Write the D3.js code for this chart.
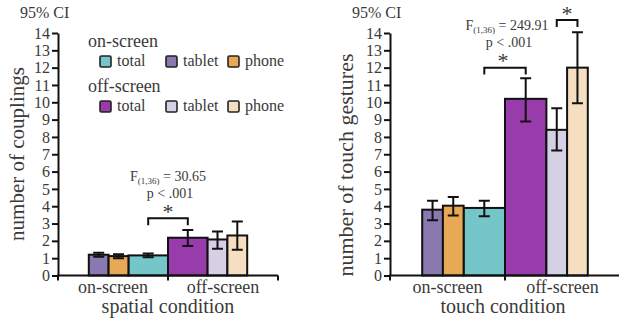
<!DOCTYPE html>
<html>
<head>
<meta charset="utf-8">
<script src="https://cdn.jsdelivr.net/npm/d3@7"></script>
<style>
  body { margin: 0; background: #fff; }
</style>
</head>
<body>
<svg id="chart" width="619" height="322" font-family="serif" fill="#3a3a3a"></svg>
<script>
//====
// data
//====
var conditions = ["on-screen", "off-screen"];
var devices = ["total", "tablet", "phone"];
var yTicks = d3.range(0, 15);

// number of couplings (order: total, tablet, phone)
var couplingsOnMean = [1.16, 1.20, 1.12];
var couplingsOnLo = [1.05, 1.08, 1.00];
var couplingsOnHi = [1.27, 1.32, 1.22];
var couplingsOffMean = [2.18, 2.08, 2.31];
var couplingsOffLo = [1.70, 1.54, 1.49];
var couplingsOffHi = [2.62, 2.54, 3.12];

// number of touch gestures
var gesturesOnMean = [3.90, 3.80, 4.03];
var gesturesOnLo = [3.42, 3.19, 3.47];
var gesturesOnHi = [4.32, 4.32, 4.53];
var gesturesOffMean = [10.20, 8.41, 12.00];
var gesturesOffLo = [8.89, 7.22, 9.95];
var gesturesOffHi = [11.39, 9.66, 14.04];

var colors = {
  "on-screen": {total: "#75c6c8", tablet: "#8a79b0", phone: "#e7a955"},
  "off-screen": {total: "#983cab", tablet: "#d6d0e4", phone: "#f6dfc1"}
};

// slot layout of the bars inside each condition band
var slots = {
  "on-screen": {tablet: [0, 1], phone: [1, 2], total: [2, 4]},
  "off-screen": {total: [0, 2], tablet: [2, 3], phone: [3, 4]}
};

function rows(onMean, onLo, onHi, offMean, offLo, offHi) {
  var out = [];
  devices.forEach(function (d, i) {
    out.push({cond: "on-screen", dev: d, v: onMean[i], lo: onLo[i], hi: onHi[i]});
    out.push({cond: "off-screen", dev: d, v: offMean[i], lo: offLo[i], hi: offHi[i]});
  });
  return out;
}

var svg = d3.select("#chart");

function drawPanel(opt) {
  var g = svg.append("g");
  var x = d3.scaleBand().domain(conditions).range([opt.x0, opt.x1]).padding(0);
  var y = d3.scaleLinear().domain([0, 14]).range([275.5, 33]);
  var unit = x.bandwidth() * 0.18;

  function slotScale(cond) {
    var s = x(cond), e = s + x.bandwidth();
    return cond === "on-screen"
      ? d3.scaleLinear().domain([0, 4]).range([e - 4 * unit, e])
      : d3.scaleLinear().domain([0, 4]).range([s, s + 4 * unit]);
  }
  function barX(d) { return slotScale(d.cond)(slots[d.cond][d.dev][0]); }
  function barW(d) { return slotScale(d.cond)(slots[d.cond][d.dev][1]) - barX(d); }
  function barC(cond, dev) {
    var sc = slotScale(cond), sl = slots[cond][dev];
    return (sc(sl[0]) + sc(sl[1])) / 2;
  }

  // bars
  g.append("g").selectAll("rect")
    .data(opt.data)
    .enter().append("rect")
    .attr("x", barX)
    .attr("width", barW)
    .attr("y", function (d) { return y(d.v); })
    .attr("height", function (d) { return y(0) - y(d.v); })
    .attr("fill", function (d) { return colors[d.cond][d.dev]; })
    .attr("stroke", "#111")
    .attr("stroke-width", 2);

  // error bars
  var eb = g.append("g").attr("stroke", "#111").attr("stroke-width", 2).attr("fill", "none");
  eb.selectAll("path")
    .data(opt.data)
    .enter().append("path")
    .attr("d", function (d) {
      var cx = barC(d.cond, d.dev), c = 5.5;
      return "M" + (cx - c) + "," + y(d.hi) + "H" + (cx + c) +
        "M" + cx + "," + y(d.hi) + "V" + y(d.lo) +
        "M" + (cx - c) + "," + y(d.lo) + "H" + (cx + c);
    });

  // y axis
  var yAxis = g.append("g")
    .attr("transform", "translate(" + opt.x0 + ",0)")
    .call(d3.axisLeft(y).tickValues(yTicks).tickSize(6).tickSizeOuter(0).tickPadding(2));
  yAxis.attr("font-family", "serif").attr("font-size", 16);
  yAxis.selectAll("path, line").attr("stroke", "#111").attr("stroke-width", 2);
  yAxis.selectAll("text").attr("fill", "#3a3a3a");

  // x axis
  var xa = g.append("g").attr("stroke", "#111").attr("stroke-width", 2);
  xa.append("line").attr("x1", opt.x0 - 1).attr("x2", opt.x1).attr("y1", y(0)).attr("y2", y(0));
  var edges = [opt.x0, x("off-screen")].concat(opt.endTick ? [opt.x1] : []);
  xa.selectAll(".tk").data(edges).enter().append("line")
    .attr("x1", function (d) { return d; }).attr("x2", function (d) { return d; })
    .attr("y1", y(0)).attr("y2", y(0) + 5);

  g.selectAll(".cat").data(conditions).enter().append("text")
    .attr("x", function (d) { return x(d) + x.bandwidth() / 2; })
    .attr("y", 293)
    .attr("text-anchor", "middle")
    .attr("font-size", 18)
    .text(function (d) { return d; });

  g.append("text")
    .attr("x", opt.x0 + (opt.x1 - opt.x0) / 2 + opt.titleShift)
    .attr("y", 313)
    .attr("text-anchor", "middle")
    .attr("font-size", 20)
    .text(opt.xTitle);

  g.append("text")
    .attr("transform", "translate(" + opt.yTitleX + "," + opt.yTitleY + ") rotate(-90)")
    .attr("text-anchor", "middle")
    .attr("font-size", opt.yTitleSize)
    .text(opt.yTitle);

  g.append("text")
    .attr("x", opt.ciX).attr("y", 18)
    .attr("font-size", 16)
    .text("95% CI");

  return {g: g, x: x, y: y, barC: barC};
}

function bracket(p, x1, x2, top, legs) {
  p.g.append("path")
    .attr("d", "M" + x1 + "," + p.y(legs) + "V" + p.y(top) + "H" + x2 + "V" + p.y(legs))
    .attr("fill", "none").attr("stroke", "#111").attr("stroke-width", 2);
}
// asterisk centred at (cx, cy)
function star(p, cx, cy) {
  p.g.append("text")
    .attr("x", cx).attr("y", cy + 11)
    .attr("text-anchor", "middle").attr("font-size", 22)
    .text("*");
}
function stat(p, cx, yF, fval) {
  var t = p.g.append("text")
    .attr("x", cx).attr("y", yF).attr("text-anchor", "middle").attr("font-size", 14);
  t.append("tspan").text("F");
  t.append("tspan").attr("font-size", 9).attr("dy", 3).text("(1,36)");
  t.append("tspan").attr("dy", -3).text(" = " + fval);
  p.g.append("text")
    .attr("x", cx + 2).attr("y", yF + 17).attr("text-anchor", "middle").attr("font-size", 14)
    .text("p < .001");
}

// left panel: couplings
var left = drawPanel({
  data: rows(couplingsOnMean, couplingsOnLo, couplingsOnHi, couplingsOffMean, couplingsOffLo, couplingsOffHi),
  x0: 58, x1: 278, endTick: true,
  xTitle: "spatial condition", titleShift: 0,
  yTitle: "number of couplings", yTitleX: 24, yTitleY: 154, yTitleSize: 21,
  ciX: 20
});
bracket(left, left.barC("on-screen", "total"), left.barC("off-screen", "total"), 3.3, 2.9);
star(left, 168, 208);
stat(left, 168, 181, "30.65");

// legend
var legendRows = [
  {cond: "on-screen", y: 47},
  {cond: "off-screen", y: 92}
];
var itemX = [100, 166, 228];
var lg = svg.append("g");
legendRows.forEach(function (r) {
  lg.append("text").attr("x", 88).attr("y", r.y)
    .attr("font-size", 18).text(r.cond);
  devices.forEach(function (d, i) {
    lg.append("rect")
      .attr("x", itemX[i]).attr("y", r.y + 9)
      .attr("width", 11).attr("height", 11).attr("rx", 1.5)
      .attr("fill", colors[r.cond][d]).attr("stroke", "#222").attr("stroke-width", 1.6);
    lg.append("text")
      .attr("x", itemX[i] + 17).attr("y", r.y + 19)
      .attr("font-size", 16).text(d);
  });
});

// right panel: touch gestures
var right = drawPanel({
  data: rows(gesturesOnMean, gesturesOnLo, gesturesOnHi, gesturesOffMean, gesturesOffLo, gesturesOffHi),
  x0: 390, x1: 620, endTick: false,
  xTitle: "touch condition", titleShift: -2,
  yTitle: "number of touch gestures", yTitleX: 353, yTitleY: 165, yTitleSize: 22,
  ciX: 352
});
bracket(right, right.barC("on-screen", "total"), right.barC("off-screen", "total"), 12.0, 11.6);
star(right, 503, 57);
bracket(right, right.barC("off-screen", "tablet"), right.barC("off-screen", "phone"), 14.75, 14.35);
star(right, 567, 10);
stat(right, 507, 30, "249.91");
</script>
</body>
</html>
